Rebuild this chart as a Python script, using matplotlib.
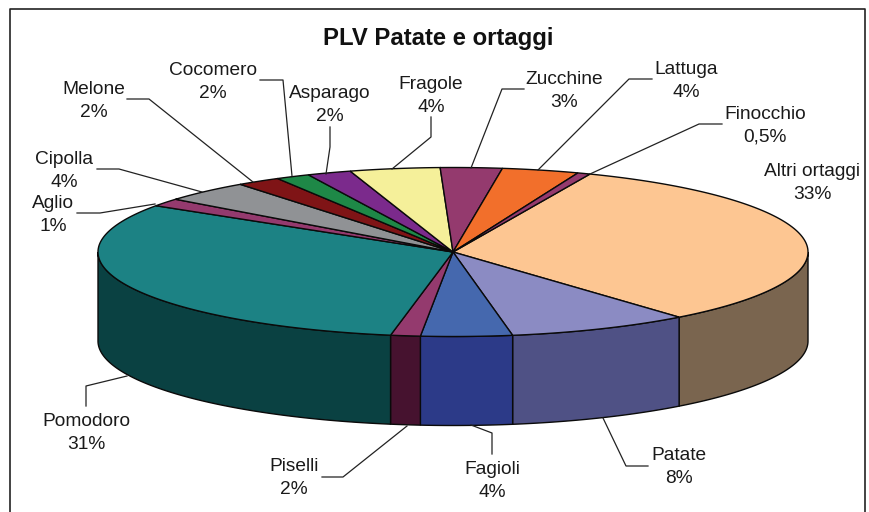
import numpy as np
import matplotlib
matplotlib.use('Agg')
import matplotlib.pyplot as plt
from matplotlib.patches import Polygon

# Categories and shares, clockwise from the top right
categories = ['Altri ortaggi', 'Patate', 'Fagioli', 'Piselli', 'Pomodoro', 'Aglio', 'Cipolla',
              'Melone', 'Cocomero', 'Asparago', 'Fragole', 'Zucchine', 'Lattuga', 'Finocchio']
shares = [32.7, 8.3, 4.15, 1.35, 31.4, 1.5, 4.05, 2.0, 1.55, 2.0, 4.1, 2.8, 3.5, 0.58]
pct_labels = ['33%', '8%', '4%', '2%', '31%', '1%', '4%', '2%', '2%', '2%', '4%', '3%', '4%', '0,5%']

top_colors = ['#FDC692', '#8B8BC3', '#4568AE', '#943A6E', '#1C8284', '#943A6E', '#909295',
              '#7F1416', '#1E8847', '#7B2A8C', '#F5F09A', '#943A6E', '#F26F2B', '#943A6E']
side_colors = ['#7A654F', '#4F5185', '#2C3A88', '#46122F', '#0A4142', '#46122F', '#48494A',
               '#3F0A0B', '#0F4423', '#3D1546', '#7A784D', '#46122F', '#793715', '#46122F']

# Label centres and leader lines, in pixels of the picture
label_pos = [(812, 183), (679, 467), (492, 481), (294, 478), (86, 433), (53, 215), (64, 171),
             (94, 101), (213, 82), (330, 105), (431, 96), (564, 91), (686, 81), (765, 126)]
leaders = [None,
           [(648, 466), (626, 466), (603, 418)],
           [(492, 454), (492, 433), (471, 425)],
           [(322, 477), (343, 477), (407, 426)],
           [(86, 406), (86, 386), (127, 376)],
           [(77, 213), (100, 213), (155, 204)],
           [(97, 169), (119, 169), (202, 192)],
           [(127, 99), (149, 99), (253, 182)],
           [(260, 80), (283, 80), (292, 176)],
           [(330, 127), (330, 147), (326, 174)],
           [(431, 117), (431, 137), (392, 169)],
           [(524, 89), (502, 89), (471, 168)],
           [(652, 79), (629, 79), (538, 170)],
           [(722, 124), (699, 124), (590, 174)]]

# Pie geometry
cx, cy = 453, 252
rx, ry = 355, 84.5
depth = 89
start_angle = 22.7


def rim(a0, a1):
    t = np.radians(np.linspace(a0, a1, max(int(abs(a1 - a0) * 2), 2)))
    return np.column_stack([cx + rx * np.sin(t), cy - ry * np.cos(t)])


plt.rcParams['font.family'] = 'Liberation Sans'

fig = plt.figure(figsize=(8.69, 5.12), dpi=100)
ax = fig.add_axes([0, 0, 1, 1])
ax.set_xlim(0, 869)
ax.set_ylim(512, 0)
ax.axis('off')

# Frame, cut off by the bottom of the picture
ax.plot([10, 10, 865, 865], [512, 9, 9, 512], color='#222222', lw=1.2)

ax.text(438.5, 38.5, 'PLV Patate e ortaggi', fontsize=17.2, fontweight='bold',
        ha='center', va='center', color='#111111')

edges = start_angle + np.concatenate([[0], np.cumsum(shares)]) / sum(shares) * 360

# Only the front half of the side wall can be seen
for i in range(len(shares)):
    a0, a1 = max(edges[i], 90), min(edges[i + 1], 270)
    if a1 > a0:
        arc = rim(a0, a1)
        wall = np.vstack([arc, (arc + [0, depth])[::-1]])
        ax.add_patch(Polygon(wall, closed=True, facecolor=side_colors[i],
                             edgecolor='#0a0a0a', lw=1.0, zorder=2))

for i in range(len(shares)):
    wedge = np.vstack([[cx, cy], rim(edges[i], edges[i + 1])])
    ax.add_patch(Polygon(wedge, closed=True, facecolor=top_colors[i],
                         edgecolor='#0a0a0a', lw=1.0, zorder=3))

for name, pct, pos, line in zip(categories, pct_labels, label_pos, leaders):
    ax.text(pos[0], pos[1], name + '\n' + pct, fontsize=13.8, ha='center', va='center',
            color='#1a1a1a', linespacing=1.42)
    if line is not None:
        xs, ys = zip(*line)
        ax.plot(xs, ys, color='#222222', lw=0.9, zorder=4)

fig.savefig('out.png', dpi=100)
